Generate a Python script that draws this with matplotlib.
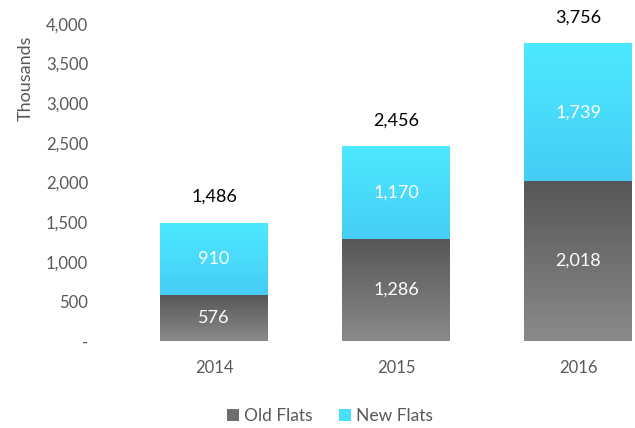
import matplotlib
matplotlib.use("Agg")
import matplotlib.pyplot as plt
import numpy as np
from matplotlib.colors import LinearSegmentedColormap
from matplotlib.patches import Patch

plt.rcParams['font.family'] = ['Lato', 'DejaVu Sans']

years = ["2014", "2015", "2016"]
old_flats = [576, 1286, 2018]
new_flats = [910, 1170, 1739]
totals = [1486, 2456, 3756]
y_ticks = [0, 500, 1000, 1500, 2000, 2500, 3000, 3500, 4000]

grey_cmap = LinearSegmentedColormap.from_list("grey", ["#8a8a8a", "#575757"])
cyan_cmap = LinearSegmentedColormap.from_list("cyan", ["#45cdf6", "#4de9ff"])

fig = plt.figure(figsize=(6.35, 4.28), dpi=100)
ax = fig.add_axes([105 / 635, 1 - 341 / 428, 530 / 635, 317 / 428])

x = np.arange(len(years))
width = 0.593
bars_old = ax.bar(x, old_flats, width, color="none", label="Old Flats")
bars_new = ax.bar(x, new_flats, width, bottom=old_flats, color="none", label="New Flats")

# gradient fills clipped to each bar
grad = np.linspace(0, 1, 256).reshape(-1, 1)
for bars, cmap in [(bars_old, grey_cmap), (bars_new, cyan_cmap)]:
    for b in bars:
        x0, y0 = b.get_x(), b.get_y()
        im = ax.imshow(grad, cmap=cmap, origin="lower", aspect="auto",
                       extent=[x0, x0 + b.get_width(), y0, y0 + b.get_height()],
                       zorder=1)
        im.set_clip_path(b)

for i in range(len(years)):
    ax.text(x[i], old_flats[i] / 2, f"{old_flats[i]:,}", ha="center", va="center",
            color="white", fontsize=13)
    ax.text(x[i], old_flats[i] + new_flats[i] / 2, f"{new_flats[i]:,}", ha="center",
            va="center", color="white", fontsize=13)
    ax.text(x[i], totals[i] + 330, f"{totals[i]:,}", ha="center", va="center",
            color="black", fontsize=13, clip_on=False)

ax.set_xlim(-0.599, 2.313)
ax.set_ylim(0, 4000)
ax.set_yticks(y_ticks)
ax.set_yticklabels(["-"] + [f"{v:,}" for v in y_ticks[1:]])
ax.set_xticks(x)
ax.set_xticklabels(years)
ax.tick_params(axis="both", length=0, colors="#595959", labelsize=12)
ax.tick_params(axis="y", pad=12)
ax.tick_params(axis="x", pad=14)
for s in ax.spines.values():
    s.set_visible(False)

ax.set_ylabel("Thousands", color="#595959", fontsize=13)
ax.yaxis.set_label_coords(-0.135, 0.83)

handles = [Patch(facecolor="#6e6e6e", label="Old Flats"),
           Patch(facecolor="#4ae0fc", label="New Flats")]
fig.legend(handles=handles, loc="center", bbox_to_anchor=(330 / 635, 1 - 416 / 428),
           ncol=2, frameon=False, fontsize=12.5, handlelength=0.7, handleheight=0.7,
           handletextpad=0.3, columnspacing=1.5, labelcolor="#595959")

fig.savefig("out.png", dpi=100)
